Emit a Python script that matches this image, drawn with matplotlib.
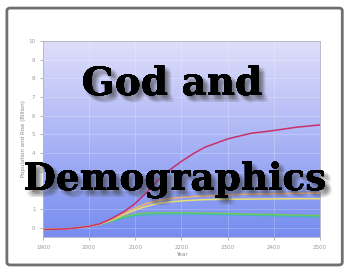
"""
God and Demographics - population projection thumbnail
"""

import numpy as np
import matplotlib.pyplot as plt
import matplotlib.patheffects as pe
from matplotlib.patches import FancyBboxPatch

# data (billions)
years = [1900, 1950, 2000, 2025, 2050, 2075, 2100, 2125, 2150, 2175, 2200, 2225,
         2250, 2300, 2350, 2400, 2450, 2500]
red = [-0.1, -0.07, 0.07, 0.22, 0.5, 0.85, 1.3, 1.9, 2.55, 3.1, 3.55, 3.95,
       4.3, 4.75, 5.05, 5.2, 5.38, 5.5]
orange = [-0.1, -0.07, 0.07, 0.2, 0.45, 0.75, 1.05, 1.3, 1.45, 1.55, 1.62, 1.67,
          1.7, 1.76, 1.8, 1.82, 1.84, 1.85]
yellow = [-0.1, -0.07, 0.07, 0.2, 0.42, 0.7, 0.95, 1.15, 1.3, 1.38, 1.43, 1.47,
          1.5, 1.52, 1.53, 1.54, 1.55, 1.55]
green = [-0.1, -0.07, 0.07, 0.2, 0.38, 0.58, 0.72, 0.78, 0.8, 0.8, 0.8, 0.79,
         0.78, 0.76, 0.72, 0.7, 0.67, 0.65]
teal = [-0.1, -0.07, 0.07, 0.19, 0.35, 0.52, 0.64, 0.7, 0.72, 0.73, 0.73, 0.73,
        0.72, 0.7, 0.67, 0.64, 0.61, 0.58]

series = [teal, green, yellow, orange, red]
colors = ['#40b8b8', '#70c860', '#e8e070', '#f0b070', '#c8306a']

xticks = [1900, 2000, 2100, 2200, 2300, 2400, 2500]
yticks = list(range(0, 11))

fig = plt.figure(figsize=(3.44, 2.69), dpi=100)
fig.patch.set_facecolor('white')

# grey frame round the picture
frame = FancyBboxPatch((0.02, 0.015), 0.975, 0.955, boxstyle='round,pad=0,rounding_size=0.01',
                       transform=fig.transFigure, facecolor='none', edgecolor='#707070',
                       linewidth=2.0, zorder=5)
fig.patches.append(frame)

ax = fig.add_axes([0.125, 0.119, 0.805, 0.729])

# gradient background, lavender at top to blue at bottom
top = np.array([224, 222, 250]) / 255
bottom = np.array([118, 140, 240]) / 255
t = np.linspace(0, 1, 256)[:, None]
grad = top * (1 - t[..., None]) + bottom * t[..., None]
ax.imshow(grad, extent=[1900, 2500, -0.5, 10], aspect='auto', zorder=0)

for s, c in zip(series, colors):
    ax.plot(years, s, color=c, linewidth=1.1, zorder=2)

ax.set_xlim(1900, 2500)
ax.set_ylim(-0.5, 10)
ax.set_xticks(xticks)
ax.set_yticks(yticks)
ax.tick_params(labelsize=4, colors='#999999', length=2, width=0.5)
ax.grid(True, color='white', alpha=0.3, linewidth=0.5)
for sp in ax.spines.values():
    sp.set_color('#b0b0c0')
    sp.set_linewidth(0.6)
ax.set_xlabel('Year', fontsize=4, color='#888888', labelpad=2)
ax.set_ylabel('Population and Rise (Billion)', fontsize=4, color='#888888', labelpad=2)

# big title with soft blurred shadow
offsets = [(1, 1), (2, 2), (3, 3), (4, 4), (5, 5), (3, 1), (1, 3), (4, 2), (2, 4), (5, 3), (3, 5)]
shadow = [pe.withSimplePatchShadow(offset=(dx, -dy), shadow_rgbFace='#404040', alpha=0.09)
          for dx, dy in offsets]
title_style = dict(family='DejaVu Serif', weight='bold', color='black', ha='center',
                   va='baseline', path_effects=shadow + [pe.Normal()], zorder=10)
fig.text(0.50, 1 - 95 / 269, 'God and', fontsize=28, **title_style)
fig.text(0.508, 1 - 190 / 269, 'Demographics', fontsize=27, **title_style)

fig.savefig('out.png', dpi=100)
